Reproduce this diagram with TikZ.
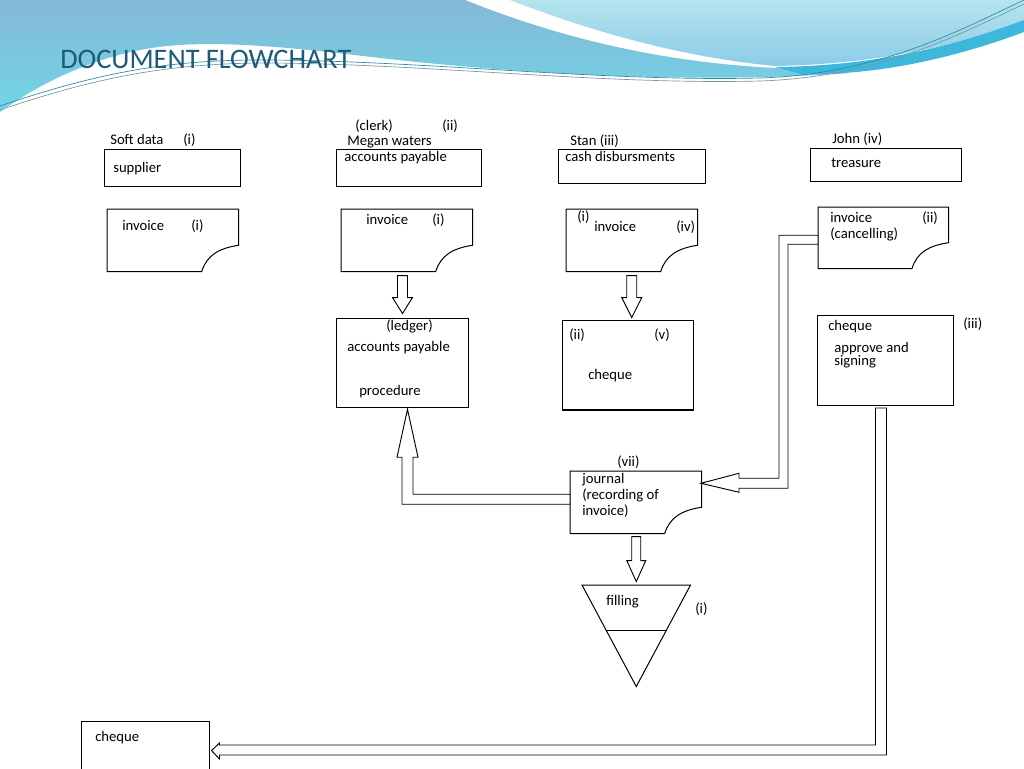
\documentclass[tikz,border=0pt]{standalone}
\usepackage{fontspec}
\setmainfont{Carlito}
\usetikzlibrary{calc}
\definecolor{hdrA}{RGB}{132,184,214}
\definecolor{hdrB}{RGB}{112,214,231}
\definecolor{hdrC}{RGB}{180,228,238}
\definecolor{hdrD}{RGB}{140,203,232}
\definecolor{hdrS}{RGB}{62,183,221}
\definecolor{ttl}{RGB}{28,92,120}
\definecolor{lnteal}{RGB}{40,140,165}
\definecolor{lngray}{RGB}{120,150,160}
\tikzset{
  ln/.style={draw=black, line width=0.75pt, line join=miter},
  box/.style={draw=black, line width=0.75pt, inner sep=0pt, anchor=north west},
  docbox/.style={draw=none, inner sep=0pt, anchor=north west},
  blk/.style={draw=black, line width=0.7pt, fill=white, line join=miter},
  txt/.style={anchor=base west, inner sep=0pt, font=\fontsize{11}{13}\selectfont},
}
\newcommand\bx[6][box]{\node[#1, minimum width=#5*0.75pt, minimum height=#6*0.75pt] (#2) at (#3,#4) {};}
\newcommand\docpath[1]{\draw[ln] (#1.north west) -- (#1.north east) -- ($(#1.north east)!0.58!(#1.south east)$) .. controls +(-20,3) and +(5,-16) .. ($(#1.south west)!0.72!(#1.south east)$) -- (#1.south west) -- cycle;}
\newcommand\T[4]{\node[txt] (#1) at (#2,#3) {#4};}
\begin{document}
\begin{tikzpicture}[x=0.75pt,y=-0.75pt]
\useasboundingbox (0,0) rectangle (1024,768);
\clip (0,0) rectangle (1024,768);
\fill[white] (0,0) rectangle (1024,768);
% ---------- header decoration ----------
\shade[top color=hdrA, bottom color=hdrB] (0,0) -- (465,0) .. controls (560,38) and (660,62) .. (775,68) .. controls (800,70) and (830,72) .. (850,73) .. controls (700,84) and (520,74) .. (380,58) .. controls (280,46) and (200,38) .. (140,50) .. controls (80,62) and (30,90) .. (0,112) -- cycle;
\shade[top color=hdrC, bottom color=hdrD] (510,0) -- (1024,0) -- (1024,20) .. controls (960,45) and (880,64) .. (775,66) .. controls (690,58) and (600,35) .. (510,0) -- cycle;
\fill[hdrS] (775,67) .. controls (880,66) and (960,44) .. (1024,20) -- (1024,32) .. controls (960,56) and (880,76) .. (800,74) -- cycle;
\draw[lnteal, line width=0.5pt] (0,106) .. controls (100,72) and (170,60) .. (260,60) .. controls (420,60) and (600,82) .. (760,78) .. controls (880,74) and (960,30) .. (1024,0);
\draw[lngray, line width=0.5pt] (0,110) .. controls (100,76) and (170,64) .. (260,63) .. controls (420,63) and (600,85) .. (760,81) .. controls (880,77) and (960,34) .. (1024,4);
\node[anchor=base west, inner sep=0pt, text=ttl, font=\fontsize{21.2}{24}\selectfont] (title) at (60,68.5) {DOCUMENT FLOWCHART};
% ---------- boxes ----------
\bx{supplier}{104}{149}{136}{37}
\bx{ap}{336}{149}{145}{37}
\bx{cash}{558}{149}{147}{34}
\bx{treas}{810}{148}{151}{33}
\bx[docbox]{doc1}{107}{209}{131}{62}
\bx[docbox]{doc2}{341}{209}{131}{62}
\bx[docbox]{doc3}{566}{209}{131}{62}
\bx[docbox]{doc4}{818}{207}{130}{61}
\bx{ledger}{336}{318}{132}{89}
\bx{chq}{562}{320}{131}{89}
\bx{appr}{817}{315}{136}{90}
\bx[docbox]{journal}{570}{471}{131}{62}
\bx{chequeb}{80.5}{720.5}{128}{80}
\bx[docbox]{filling}{582}{585}{108}{101}
\docpath{doc1}
\docpath{doc2}
\docpath{doc3}
\docpath{doc4}
\docpath{journal}
\draw[line width=1.4pt] (chq.south west) -- (chq.south east);
\draw[ln] (filling.north west) -- (filling.north east) -- (filling.south) -- cycle;
\draw[ln] ($(filling.north west)!0.446!(filling.south)$) -- ($(filling.north east)!0.446!(filling.south)$);
% ---------- block arrows ----------
\coordinate (a1) at (ledger.north |- doc2.south);
\draw[blk] (a1) +(-5,4) -- +(5,4) -- +(5,26) -- +(10,26) -- +(0,42) -- +(-10,26) -- +(-5,26) -- cycle;
\coordinate (a2) at (doc3.south);
\draw[blk] (a2) +(-5,4) -- +(5,4) -- +(5,26) -- +(10,26) -- +(0,46) -- +(-10,26) -- +(-5,26) -- cycle;
\coordinate (a3) at (filling.north |- journal.south);
\draw[blk] (a3) +(-4.5,3) -- +(4.5,3) -- +(4.5,27) -- +(9.5,27) -- +(0,48) -- +(-9.5,27) -- +(-4.5,27) -- cycle;
\coordinate (J) at ($(journal.west)+(0,-3)$);
\draw[blk] (J) +(0,-5) -- +(-157,-5) -- +(-157,-42) -- +(-152,-42) -- +(-162.5,-90) -- +(-173,-42) -- +(-168,-42) -- +(-168,5) -- +(0,5) -- cycle;
\coordinate (K) at ($(doc4.west)+(0,2)$);
\draw[blk] (K) +(0,-4.5) -- +(-39,-4.5) -- +(-39,238.5) -- +(-79,238.5) -- +(-79,233.5) -- +(-117,243.5) -- +(-79,252.5) -- +(-79,248.5) -- +(-30,248.5) -- +(-30,4.5) -- +(0,4.5) -- cycle;
\coordinate (M) at ($(appr.south)+(-4.5,2)$);
\draw[blk] (M) +(-5.5,0) -- +(5.5,0) -- +(5.5,347) -- +(-661.5,347) -- +(-661.5,351) -- +(-669.5,342.5) -- +(-661.5,335) -- +(-661.5,337) -- +(-5.5,337) -- cycle;
% ---------- texts ----------
\T{t1}{110}{144}{Soft data}
\T{t2}{183}{144}{(i)}
\T{t3}{113}{172}{supplier}
\T{t4}{355}{130}{(clerk)}
\T{t5}{442}{130}{(ii)}
\T{t6}{347}{145}{Megan waters}
\T{t7}{344}{161.5}{accounts payable}
\T{t8}{570}{145.5}{Stan (iii)}
\T{t9}{565}{161.5}{cash disbursments}
\T{t10}{832}{143}{John (iv)}
\T{t11}{831}{167}{treasure}
\T{t12}{122}{230}{invoice}
\T{t13}{191}{230}{(i)}
\T{t14}{366}{224}{invoice}
\T{t15}{432}{224}{(i)}
\T{t16}{577}{221.5}{(i)}
\T{t17}{594}{231.5}{invoice}
\T{t18}{676}{231.5}{(iv)}
\T{t19}{830}{222.5}{invoice}
\T{t20}{830}{238.5}{(cancelling)}
\T{t21}{922}{222.5}{(ii)}
\T{t22}{386}{330}{(ledger)}
\T{t23}{347}{351}{accounts payable}
\T{t24}{359}{395.5}{procedure}
\T{t25}{569}{339}{(ii)}
\T{t26}{654}{339}{(v)}
\T{t27}{588}{379}{cheque}
\T{t28}{828}{330.5}{cheque}
\T{t29}{834}{352}{approve and}
\T{t30}{834}{365.5}{signing}
\T{t31}{963}{328}{(iii)}
\T{t32}{617}{466.5}{(vii)}
\T{t33}{582}{483}{journal}
\T{t34}{582}{499}{(recording of}
\T{t35}{582}{515}{invoice)}
\T{t36}{606}{605.5}{filling}
\T{t37}{695}{613}{(i)}
\T{t38}{95}{741}{cheque}
\end{tikzpicture}
\end{document}
